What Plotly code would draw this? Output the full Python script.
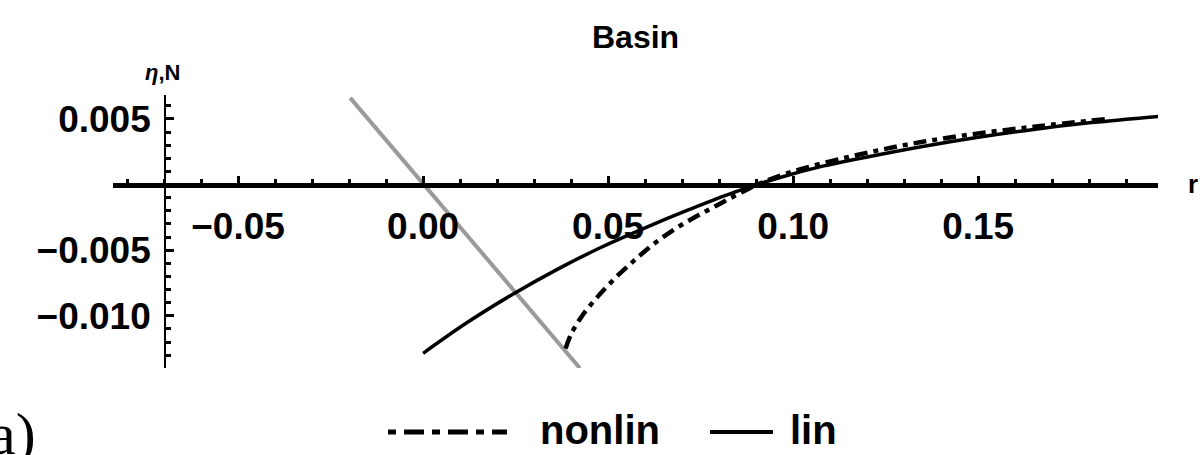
import plotly.graph_objects as go

# ---- data ----
gray_r = [-0.0197, 0.0424]
gray_v = [0.0066, -0.0140]

lin_r = [0.000, 0.012, 0.024, 0.036, 0.048, 0.060, 0.072, 0.084, 0.096,
         0.108, 0.120, 0.135, 0.150, 0.165, 0.180, 0.199]
lin_v = [-0.01286, -0.0105, -0.0084, -0.0065, -0.0048, -0.0033, -0.0019, -0.0006, 0.0005,
         0.0014, 0.0021, 0.0029, 0.0036, 0.0042, 0.0047, 0.0052]

nonlin_r = [0.0385, 0.040, 0.043, 0.047, 0.052, 0.057, 0.062, 0.068, 0.074, 0.080,
            0.086, 0.092, 0.100, 0.115, 0.130, 0.145, 0.165, 0.185]
nonlin_v = [-0.0125, -0.0114, -0.0100, -0.0086, -0.0071, -0.0058, -0.0046, -0.0034, -0.0024, -0.0015,
            -0.0006, 0.0002, 0.0010, 0.0021, 0.0030, 0.0037, 0.0044, 0.0050]

x_ticks = [-0.05, 0.00, 0.05, 0.10, 0.15]
y_ticks = [-0.010, -0.005, 0.005]

x_range = [-0.0838, 0.1986]
y_range = [-0.01398, 0.00682]
y_axis_at = -0.0697

# ---- layout geometry ----
W, H = 1203, 455
ML, MR, MT, MB = 113, 45, 95, 87
PW, PH = W - ML - MR, H - MT - MB


def px_x(p):
    return (p - ML) / PW


def px_y(p):
    return (H - MB - p) / PH


FONT = "Liberation Sans"

fig = go.Figure()
fig.add_trace(go.Scatter(x=gray_r, y=gray_v, mode="lines",
                         line=dict(color="#9a9a9a", width=4), showlegend=False))
fig.add_trace(go.Scatter(x=lin_r, y=lin_v, mode="lines", line_shape="spline",
                         line=dict(color="black", width=3.5, smoothing=1), showlegend=False, name="lin"))
fig.add_trace(go.Scatter(x=nonlin_r, y=nonlin_v, mode="lines", line_shape="spline",
                         line=dict(color="black", width=4.5, dash="13px,6px,5px,6px", smoothing=1),
                         showlegend=False, name="nonlin"))

xpos = (0 - y_range[0]) / (y_range[1] - y_range[0])
ypos = (y_axis_at - x_range[0]) / (x_range[1] - x_range[0])

fig.update_layout(
    width=W, height=H,
    margin=dict(l=ML, r=MR, t=MT, b=MB),
    paper_bgcolor="white", plot_bgcolor="white",
    font=dict(family=FONT, color="black"),
    xaxis=dict(range=x_range, anchor="free", position=xpos,
               showgrid=False, zeroline=False, showline=True, linewidth=5, linecolor="black",
               tickmode="array", tickvals=x_ticks, tickformat=".2f",
               ticks="inside", ticklen=7, tickwidth=2.5, tickcolor="black",
               tickfont=dict(size=37, weight="bold", family=FONT),
               ticklabelstandoff=7,
               minor=dict(tickmode="linear", tick0=0, dtick=0.01, ticks="inside",
                          ticklen=4, tickwidth=2.5, tickcolor="black", showgrid=False)),
    yaxis=dict(range=y_range, anchor="free", position=ypos,
               showgrid=False, zeroline=False, showline=True, linewidth=2, linecolor="black",
               tickmode="array", tickvals=y_ticks, tickformat=".3f",
               ticks="inside", ticklen=8, tickwidth=3, tickcolor="black",
               tickfont=dict(size=37, weight="bold", family=FONT),
               ticklabelstandoff=6,
               minor=dict(tickmode="linear", tick0=0, dtick=0.001, ticks="inside",
                          ticklen=5, tickwidth=3, tickcolor="black", showgrid=False)),
    showlegend=False,
)

annotations = [
    dict(text="<b>Basin</b>", x=0.5, y=px_y(37), xref="paper", yref="paper",
         xanchor="center", yanchor="middle", showarrow=False,
         font=dict(size=32, family=FONT)),
    dict(text="<b><i>η</i>,N</b>", x=px_x(143), y=px_y(72), xref="paper", yref="paper",
         xanchor="left", yanchor="middle", showarrow=False, font=dict(size=22, family=FONT)),
    dict(text="<b>r</b>", x=px_x(1186), y=px_y(184), xref="paper", yref="paper",
         xanchor="left", yanchor="middle", showarrow=False, font=dict(size=26, family=FONT)),
    dict(text="a)", x=px_x(38), y=px_y(434), xref="paper", yref="paper",
         xanchor="right", yanchor="middle", showarrow=False,
         font=dict(size=60, family="Liberation Serif")),
    dict(text="<b>nonlin</b>", x=px_x(538), y=px_y(430), xref="paper", yref="paper",
         xanchor="left", yanchor="middle", showarrow=False, font=dict(size=40, family=FONT)),
    dict(text="<b>lin</b>", x=px_x(788), y=px_y(430), xref="paper", yref="paper",
         xanchor="left", yanchor="middle", showarrow=False, font=dict(size=40, family=FONT)),
]
fig.update_layout(annotations=annotations)

shapes = [
    dict(type="line", xref="paper", yref="paper", x0=px_x(388), x1=px_x(507),
         y0=px_y(432), y1=px_y(432),
         line=dict(color="black", width=5, dash="8px,8px,20px,8px")),
    dict(type="line", xref="paper", yref="paper", x0=px_x(710), x1=px_x(773),
         y0=px_y(432), y1=px_y(432), line=dict(color="black", width=4)),
]
fig.update_layout(shapes=shapes)

fig.write_html("out.html")
